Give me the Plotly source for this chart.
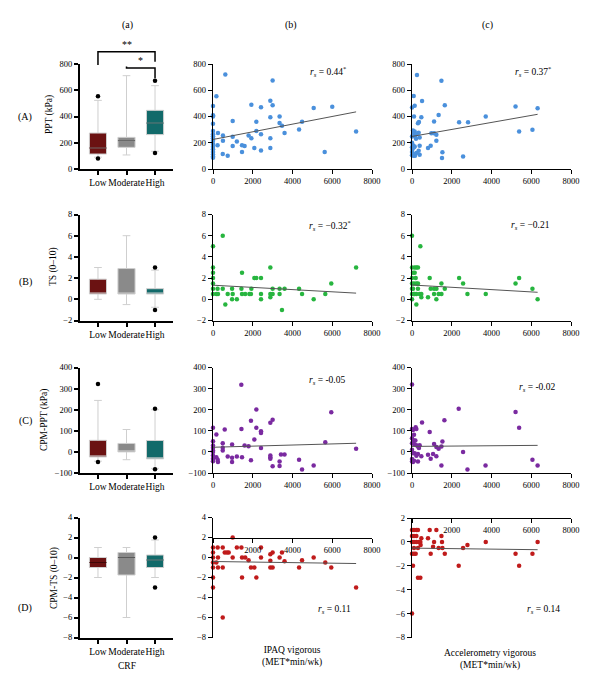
import plotly.graph_objects as go

W, H = 600, 689

# ---------------- data ----------------
categories = ["Low", "Moderate", "High"]
box_colors = ["#6b1212", "#8a8a8a", "#126a6a"]
median_colors = ["#3f0808", "#5a5a5a", "#0a4444"]

# Box statistics per outcome, order: Low, Moderate, High
ppt_q1 = [114, 165, 262]
ppt_med = [160, 216, 350]
ppt_q3 = [274, 241, 447]
ppt_lo = [90, 107, 135]
ppt_hi = [523, 711, 635]
ppt_out_x = [0, 0, 2, 2]
ppt_out_y = [554, 80, 673, 122]

ts_q1 = [0.5, 0.5, 0.5]
ts_med = [0.5, 0.5, 0.5]
ts_q3 = [1.9, 2.9, 1.0]
ts_lo = [0, -0.5, -0.75]
ts_hi = [3, 6, 2.75]
ts_out_x = [2, 2]
ts_out_y = [3, -1]

cpmppt_q1 = [-24, 0, -33]
cpmppt_med = [-24, 0, -33]
cpmppt_q3 = [55, 40, 54]
cpmppt_lo = [-44, -37, -78]
cpmppt_hi = [244, 106, 200]
cpmppt_out_x = [0, 0, 2, 2]
cpmppt_out_y = [322, -48, 204, -82]

cpmts_q1 = [-1, -1.75, -1]
cpmts_med = [-0.5, 0, -0.25]
cpmts_q3 = [0, 0.5, 0.25]
cpmts_lo = [-2, -6, -2]
cpmts_hi = [1, 1, 1.75]
cpmts_out_x = [2, 2]
cpmts_out_y = [2, -3]

# Scatter data (MET*min/wk vs outcome)
ipaq_ppt_x = [620,170,0,0,0,0,0,0,0,0,0,0,0,0,0,0,0,0,250,230,500,500,490,740,990,990,990,1200,1460,1460,1590,1790,1930,1930,2180,2180,2080,2415,2415,2415,2885,2885,2885,2885,3000,3000,3350,3350,3470,3600,4330,4480,5065,5620,6000,7200]
ipaq_ppt_y = [720,555,480,410,400,345,290,265,250,235,215,190,170,150,130,110,95,85,275,180,255,215,115,100,365,245,175,210,180,130,175,255,490,235,360,290,160,470,265,140,520,395,235,160,675,485,400,350,330,275,300,360,465,130,475,285]

acc_ppt_x = [250,1480,85,135,0,505,1650,5210,6320,100,470,1340,3710,300,350,1110,2370,2820,50,135,100,335,975,1110,1225,0,385,200,1225,0,50,0,20,0,60,0,80,100,135,385,805,940,335,220,385,150,1530,1510,2570,5390,6060,200,150]
acc_ppt_y = [716,673,557,481,468,519,486,476,463,400,395,412,400,349,359,362,357,357,293,286,273,276,273,273,260,248,240,265,215,200,180,165,150,130,115,105,100,165,172,177,160,177,139,121,109,100,127,83,96,286,299,230,250]

ipaq_ts_x = [0,490,0,0,0,0,0,0,230,250,170,490,740,620,960,990,960,1200,1460,1430,1460,1620,1830,1930,1910,2080,2180,2415,2415,2415,2885,2885,2885,3000,3000,3350,3350,3470,3600,4330,4480,5065,5650,5950,7200]
ipaq_ts_y = [5,6,3,2.5,2,1.5,1,0.5,1,0.5,0.5,1,0.5,-0.5,1,0.5,0,0,2.5,1,0.5,0.5,0.5,1,0.5,2,2,2,0.5,0,3,0.5,0.2,1,0.5,1,0.5,-1,1,1,0.5,0,0.5,1.5,3]

acc_ts_x = [0,420,0,135,220,300,50,135,0,185,890,2370,0,100,220,300,1480,2570,5210,5390,0,300,940,1110,1230,1650,6060,0,85,220,385,470,1110,1340,1480,2790,3710,470,805,0,1225,6320,220,50,135]
acc_ts_y = [6,5,3,3,3,3,2.5,2.5,2,2,2,2,1.5,1.5,1.5,1.5,1.5,1.5,1.5,2,1,1,1,1,1,1,1,0.5,0.5,0.5,0.5,0.5,0.5,0.5,0.5,0.5,0.5,0.2,0.2,0,0,0,-0.5,1,0.5]

ipaq_cpmppt_x = [1425,2180,1910,3000,2885,5950,0,170,590,1430,2180,2415,2415,2080,0,0,0,0,0,0,0,0,490,490,490,960,1590,1790,2415,170,235,250,740,960,960,1200,1460,1910,2885,2885,2885,3000,3350,3350,3420,3600,4330,4480,5065,5650,7200]
ipaq_cpmppt_y = [318,201,148,152,138,188,114,82,106,109,114,98,90,59,51,30,20,7,-1,-17,-33,-44,41,20,7,35,30,27,18,-25,-37,-48,-22,-28,-48,-22,-25,-40,-17,-25,-33,-68,-45,-67,-12,-12,-37,-84,-64,46,15]

acc_cpmppt_x = [0,2350,5210,1630,505,5390,185,220,0,50,890,100,0,100,170,1530,0,100,220,300,385,350,1110,1225,1340,1480,2570,0,50,135,220,300,470,805,1060,940,1225,0,100,300,0,50,1480,2790,3700,6060,6320]
acc_cpmppt_y = [320,204,189,150,139,115,117,109,109,104,94,81,65,54,54,49,41,37,31,26,31,18,37,23,15,26,0,10,-6,-6,-18,-10,-21,-13,-10,-32,-21,-34,-42,-45,-45,-48,-65,-84,-64,-37,-64]

ipaq_cpmts_x = [990,0,235,490,1200,1430,2415,0,590,700,790,2885,3000,3470,0,250,990,1460,1620,2415,3350,5065,0,170,1790,2885,3600,4480,5650,0,250,490,1910,2080,2885,3000,4330,5950,0,1460,2180,0,7200,490]
ipaq_cpmts_y = [2,1,1,1,1,1,1,0.5,0.5,0.5,0.5,0.33,0.5,0.5,0,0,0,0,0,0,0,0,-0.5,-0.5,-0.27,-0.33,-0.37,-0.27,-0.5,-1,-1,-1,-1,-1,-1,-1,-1,-1,-2,-2,-2,-3,-3,-6]

acc_cpmts_x = [0,100,220,300,890,1225,0,100,220,805,470,1480,0,100,220,350,420,1110,1510,3710,6320,2790,435,100,300,1060,1340,1530,2570,0,100,185,940,1650,5210,6060,50,2350,5390,300,420,0]
acc_cpmts_y = [1,1,1,1,1,1,0.5,0.5,0.5,0.3,0.3,0.5,0,0,0,0,0,0,0,0,0,-0.25,-0.25,-0.5,-0.5,-0.4,-0.5,-0.5,-0.5,-1,-1,-1,-1,-1,-1,-1,-2,-2,-2,-3,-3,-6]

# fitted lines: [intercept, slope]
fit_ipaq = [[225, 0.0292], [1.33, -0.000104], [22, 0.00264], [-0.40, -0.000028]]
fit_acc = [[248, 0.0267], [1.35, -0.000109], [26, 0.00079], [-0.52, -0.000021]]

rs_ipaq = ["0.44<sup>*</sup>", "\u22120.32<sup>*</sup>", "-0.05", "0.11"]
rs_acc = ["0.37<sup>*</sup>", "\u22120.21", "-0.02", "0.14"]

row_labels = ["(A)", "(B)", "(C)", "(D)"]
col_labels = ["(a)", "(b)", "(c)"]
y_titles = ["PPT (kPa)", "TS (0\u201310)", "CPM-PPT (kPa)", "CPM-TS (0\u201310)"]
scatter_colors = ["#4a90dc", "#27b53f", "#7a2aa0", "#c01b1b"]

y_ranges = [[0, 800], [-2, 8], [-100, 400], [-8, 4]]
y_ticks = [[0, 200, 400, 600, 800], [-2, 0, 2, 4, 6, 8],
           [-100, 0, 100, 200, 300, 400], [-8, -6, -4, -2, 0, 2, 4]]
x_scatter_ticks = [0, 2000, 4000, 6000, 8000]

box_stats = [
    (ppt_q1, ppt_med, ppt_q3, ppt_lo, ppt_hi, ppt_out_x, ppt_out_y),
    (ts_q1, ts_med, ts_q3, ts_lo, ts_hi, ts_out_x, ts_out_y),
    (cpmppt_q1, cpmppt_med, cpmppt_q3, cpmppt_lo, cpmppt_hi, cpmppt_out_x, cpmppt_out_y),
    (cpmts_q1, cpmts_med, cpmts_q3, cpmts_lo, cpmts_hi, cpmts_out_x, cpmts_out_y),
]
scatter_ipaq = [(ipaq_ppt_x, ipaq_ppt_y), (ipaq_ts_x, ipaq_ts_y),
                (ipaq_cpmppt_x, ipaq_cpmppt_y), (ipaq_cpmts_x, ipaq_cpmts_y)]
scatter_acc = [(acc_ppt_x, acc_ppt_y), (acc_ts_x, acc_ts_y),
               (acc_cpmppt_x, acc_cpmppt_y), (acc_cpmts_x, acc_cpmts_y)]

# ---------------- layout geometry (pixels) ----------------
col_px = [(80, 173), (213, 372), (412, 571)]
row_px = [(64, 169), (214.5, 320.5), (367.5, 473), (517.5, 637.5)]
box_xrange = [-0.63, 2.63]
FONT = "Liberation Serif"


def xdom(p):
    return [p[0] / W, p[1] / W]


def ydom(p):
    return [1 - p[1] / H, 1 - p[0] / H]


def px(x):
    return x / W


def py(y):
    return 1 - y / H


def label(x, y, text, size=9.5, angle=0):
    return dict(x=px(x), y=py(y), xref="paper", yref="paper", text=text,
                xanchor="center", yanchor="middle", textangle=angle,
                showarrow=False, font=dict(family=FONT, size=size, color="black"))


fig = go.Figure()
layout = dict(width=W, height=H, margin=dict(l=0, r=0, t=0, b=0, autoexpand=False),
              paper_bgcolor="white", plot_bgcolor="white", showlegend=False,
              font=dict(family=FONT, size=9, color="black"))
annotations = []
shapes = []

axis_common = dict(showgrid=False, zeroline=False, showline=True, linecolor="black",
                   ticks="outside", ticklen=4, tickcolor="black", automargin=False,
                   tickfont=dict(family=FONT, size=8.5, color="black"))

for r in range(4):
    for c in range(3):
        k = r * 3 + c + 1
        xa = "xaxis" if k == 1 else f"xaxis{k}"
        ya = "yaxis" if k == 1 else f"yaxis{k}"
        xr = "x" if k == 1 else f"x{k}"
        yr = "y" if k == 1 else f"y{k}"
        rp = row_px[r]
        yrange = list(y_ranges[r])
        yticks = list(y_ticks[r])
        if r == 3 and c == 2:
            rp = (518, 637.5)
            yrange = [-8, 2]
            yticks = [-8, -6, -4, -2, 0, 2]
        lw = 2 if c == 0 else 1.4
        yd = ydom(rp)
        layout[ya] = dict(axis_common, domain=yd, range=yrange, tickvals=yticks,
                          anchor=xr, linewidth=lw, tickwidth=lw)
        if c == 0:
            layout[xa] = dict(axis_common, domain=xdom(col_px[c]), range=box_xrange,
                              tickvals=[0, 1, 2], ticktext=categories, anchor=yr,
                              linewidth=lw, tickwidth=lw, tickangle=0,
                              tickfont=dict(family=FONT, size=9.5, color="black"))
        else:
            xa_d = dict(axis_common, domain=xdom(col_px[c]), range=[0, 8000],
                        tickvals=x_scatter_ticks, anchor=yr, linewidth=lw, tickwidth=lw,
                        tickangle=0)
            if r == 3:
                # x-axis crosses at y = 2
                pos = yd[0] + (2 - yrange[0]) / (yrange[1] - yrange[0]) * (yd[1] - yd[0])
                xa_d.update(anchor="free", position=pos,
                            ticktext=[""] + [str(v) for v in x_scatter_ticks[1:]])
            layout[xa] = xa_d

        if c == 0:
            q1, med, q3, lo, hi, ox, oy = box_stats[r]
            for i in range(3):
                fig.add_trace(go.Box(x=[i], q1=[q1[i]], median=[med[i]], q3=[q3[i]],
                                     lowerfence=[lo[i]], upperfence=[hi[i]],
                                     width=0.6, whiskerwidth=0.45, boxpoints=False,
                                     fillcolor=box_colors[i],
                                     line=dict(color="#cfcfcf", width=1),
                                     xaxis=xr, yaxis=yr, hoverinfo="skip"))
                if med[i] not in (q1[i], q3[i]):
                    fig.add_trace(go.Scatter(x=[i - 0.3, i + 0.3], y=[med[i], med[i]],
                                             mode="lines",
                                             line=dict(color=median_colors[i], width=1),
                                             xaxis=xr, yaxis=yr, hoverinfo="skip"))
            fig.add_trace(go.Scatter(x=ox, y=oy, mode="markers",
                                     marker=dict(color="black", size=4.5),
                                     cliponaxis=False, xaxis=xr, yaxis=yr))
        else:
            sx, sy = (scatter_ipaq if c == 1 else scatter_acc)[r]
            fit = (fit_ipaq if c == 1 else fit_acc)[r]
            fig.add_trace(go.Scatter(x=sx, y=sy, mode="markers",
                                     marker=dict(color=scatter_colors[r], size=4.5),
                                     cliponaxis=False, xaxis=xr, yaxis=yr))
            xmax = max(sx)
            fig.add_trace(go.Scatter(x=[0, xmax], y=[fit[0], fit[0] + fit[1] * xmax],
                                     mode="lines", line=dict(color="#555555", width=1),
                                     xaxis=xr, yaxis=yr))

# significance brackets on panel (A)(a)
brackets = [  # (left cat, right cat, top value, left end, right end, label)
    (0, 2, 894, 792, 817, "**"),
    (1, 2, 770, 781, 691, "*"),
]
span = box_xrange[1] - box_xrange[0]
for a, b, top, le, re_, lab in brackets:
    xa_ = (a - box_xrange[0]) / span
    xb_ = (b - box_xrange[0]) / span
    path = (f"M {xa_},{le/800} L {xa_},{top/800} L {xb_},{top/800} L {xb_},{re_/800}")
    shapes.append(dict(type="path", path=path, xref="x domain", yref="y domain",
                       line=dict(color="black", width=1.5)))
    annotations.append(dict(x=(xa_ + xb_) / 2, y=top / 800, xref="x domain", yref="y domain",
                            xanchor="center", yanchor="bottom", text=lab, showarrow=False,
                            font=dict(family=FONT, size=10)))

# text labels
for i, t in enumerate(col_labels):
    annotations.append(label([127, 291, 487][i], 25, t, size=10))
for i, t in enumerate(row_labels):
    annotations.append(label(25, [117, 282, 421, 608][i], t, size=10))
for i, t in enumerate(y_titles):
    annotations.append(label([49, 53, 45, 54][i], [115, 267, 420, 578][i], t, angle=-90))

rs_pos_b = [(328, 72), (330, 225), (327, 380), (334, 609)]
rs_pos_c = [(533, 72), (530, 225), (537, 387), (543, 609)]
for i in range(4):
    for (xx, yy), val in ((rs_pos_b[i], rs_ipaq[i]), (rs_pos_c[i], rs_acc[i])):
        annotations.append(label(xx, yy, f"<i>r<sub>s</sub></i> = {val}"))

annotations.append(label(127, 666, "CRF"))
annotations.append(label(292, 656, "IPAQ vigorous<br>(MET*min/wk)"))
annotations.append(label(490, 659, "Accelerometry vigorous<br>(MET*min/wk)"))

layout["annotations"] = annotations
layout["shapes"] = shapes
fig.update_layout(**layout)
fig.write_html("out.html")
